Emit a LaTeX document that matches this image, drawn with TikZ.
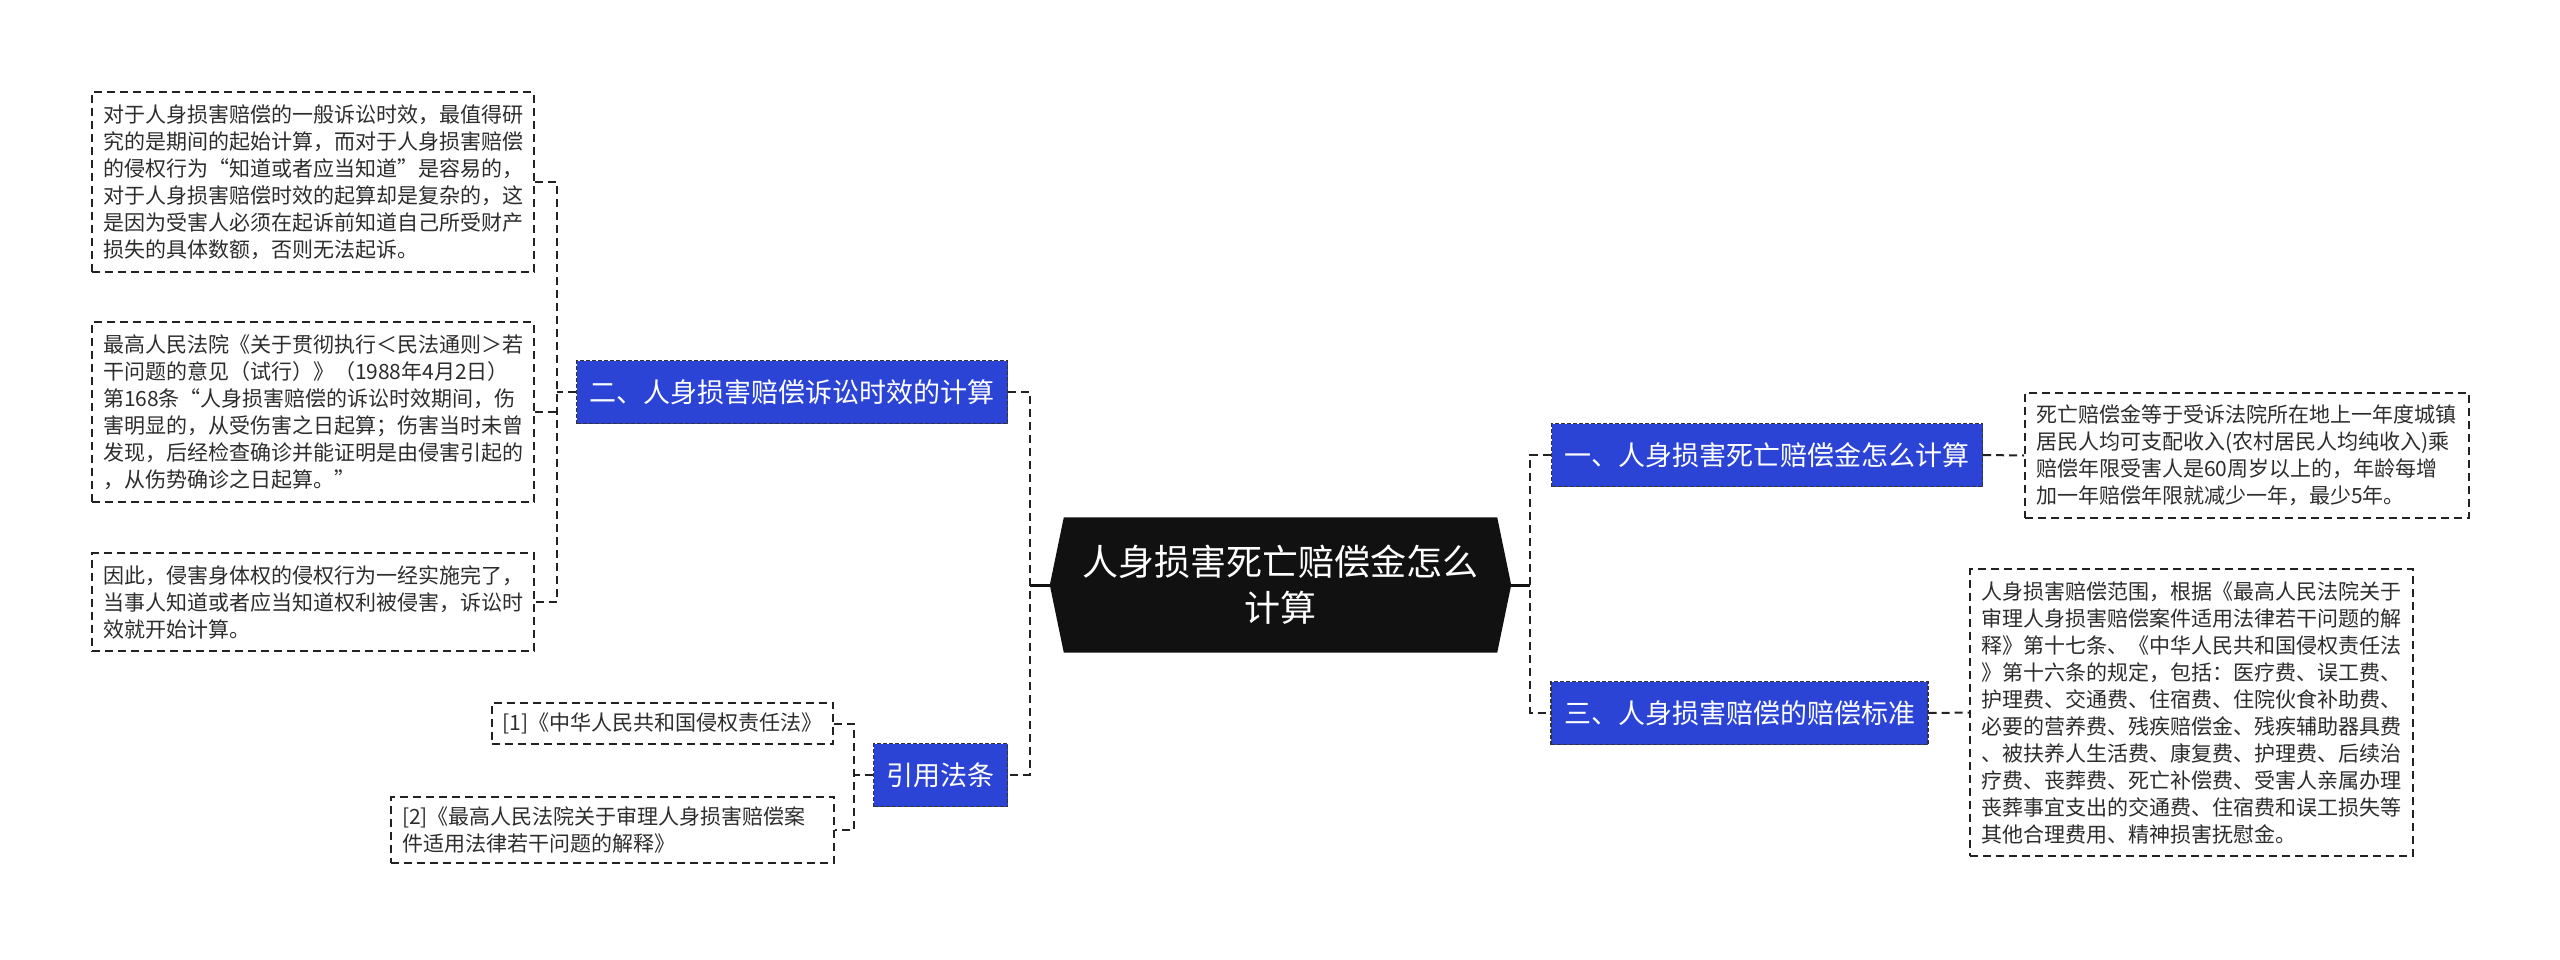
\documentclass[tikz,border=0pt]{standalone}
\usepackage{fontspec}
\setmainfont{Noto Sans CJK SC}
\usetikzlibrary{backgrounds}
\definecolor{nodeblue}{RGB}{44,68,214}
\definecolor{txtgray}{RGB}{45,45,45}
\definecolor{linegray}{RGB}{34,34,34}
\definecolor{rootblack}{RGB}{17,17,17}
\begin{document}
\begin{tikzpicture}[x=1pt,y=-1pt,
  txtbox/.style={draw=linegray, line width=2pt, dash pattern=on 8pt off 5pt, fill=white, text=txtgray, font=\fontsize{21}{27}\selectfont, align=left, inner xsep=11pt, inner ysep=12pt},
  topic/.style={draw=black!80, line width=1.4pt, dash pattern=on 4pt off 2pt, fill=nodeblue, text=white, font=\fontsize{27}{32}\selectfont, inner xsep=13pt, minimum height=63pt},
  rootnode/.style={text=white, font=\fontsize{36}{46}\selectfont, align=center, minimum width=461pt, minimum height=135pt, inner sep=0pt},
  conn/.style={draw=linegray, line width=2pt, dash pattern=on 8pt off 5pt},
  stub/.style={draw=rootblack, line width=3pt}
]
\useasboundingbox (0,0) rectangle (2560,959);

% left text boxes
\node[txtbox, text width=420pt] (a) at (313,182) {对于人身损害赔偿的一般诉讼时效，最值得研\\究的是期间的起始计算，而对于人身损害赔偿\\的侵权行为“知道或者应当知道”是容易的，\\对于人身损害赔偿时效的起算却是复杂的，这\\是因为受害人必须在起诉前知道自己所受财产\\损失的具体数额，否则无法起诉。};
\node[txtbox, text width=420pt] (b) at (313,412) {最高人民法院《关于贯彻执行＜民法通则＞若\\干问题的意见（试行）》（1988年4月2日）\\第168条“人身损害赔偿的诉讼时效期间，伤\\害明显的，从受伤害之日起算；伤害当时未曾\\发现，后经检查确诊并能证明是由侵害引起的\\，从伤势确诊之日起算。”};
\node[txtbox, text width=420pt] (c) at (313,602) {因此，侵害身体权的侵权行为一经实施完了，\\当事人知道或者应当知道权利被侵害，诉讼时\\效就开始计算。};

% topics
\node[topic] (n2) at (792,392) {二、人身损害赔偿诉讼时效的计算};
\node[topic, minimum width=133pt] (ref) at (940.5,775) {引用法条};
\node[topic] (n1) at (1767,455) {一、人身损害死亡赔偿金怎么计算};
\node[topic] (n3) at (1739.5,713) {三、人身损害赔偿的赔偿标准};

% root
\node[rootnode] (root) at (1280.5,585) {人身损害死亡赔偿金怎么\\计算};

% references
\node[txtbox, inner ysep=10pt] (r1) at (662.5,723.5) {[1]《中华人民共和国侵权责任法》};
\node[txtbox, text width=421pt, inner ysep=10pt] (r2) at (612.5,830) {[2]《最高人民法院关于审理人身损害赔偿案\\件适用法律若干问题的解释》};

% right text boxes
\node[txtbox, text width=422pt] (t1) at (2247,455.5) {死亡赔偿金等于受诉法院所在地上一年度城镇\\居民人均可支配收入(农村居民人均纯收入)乘\\赔偿年限受害人是60周岁以上的，年龄每增\\加一年赔偿年限就减少一年，最少5年。};
\node[txtbox, text width=421pt] (t3) at (2191.5,712.5) {人身损害赔偿范围，根据《最高人民法院关于\\审理人身损害赔偿案件适用法律若干问题的解\\释》第十七条、《中华人民共和国侵权责任法\\》第十六条的规定，包括：医疗费、误工费、\\护理费、交通费、住宿费、住院伙食补助费、\\必要的营养费、残疾赔偿金、残疾辅助器具费\\、被扶养人生活费、康复费、护理费、后续治\\疗费、丧葬费、死亡补偿费、受害人亲属办理\\丧葬事宜支出的交通费、住宿费和误工损失等\\其他合理费用、精神损害抚慰金。};

\begin{scope}[on background layer]
  \fill[white] (0,0) rectangle (2560,959);
  \fill[rootblack] ([xshift=14pt]root.north west) -- ([xshift=-14pt]root.north east) -- (root.east) -- ([xshift=-14pt]root.south east) -- ([xshift=14pt]root.south west) -- (root.west) -- cycle;
\end{scope}

% connectors
\coordinate (lb) at ([xshift=-19pt]n2.west);
\draw[conn] (a.east) -- (a.east -| lb) -- (c.east -| lb) -- (c.east);
\draw[conn] (b.east) -- (b.east -| lb);
\draw[conn] (n2.west) -- (lb);

\coordinate (cl) at ([xshift=-20pt]root.west);
\draw[stub] (root.west) -- (cl);
\draw[conn] (n2.east) -- (n2.east -| cl) -- (ref.east -| cl) -- (ref.east);

\coordinate (rb) at ([xshift=-19pt]ref.west);
\draw[conn] (r1.east) -- (r1.east -| rb) -- (r2.east -| rb) -- (r2.east);
\draw[conn] (ref.west) -- (rb);

\coordinate (cr) at ([xshift=19pt]root.east);
\draw[stub] (root.east) -- (cr);
\draw[conn] (n1.west) -- (n1.west -| cr) -- (n3.west -| cr) -- (n3.west);

\draw[conn] (n1.east) -- (t1.west);
\draw[conn] (n3.east) -- (t3.west);
\end{tikzpicture}
\end{document}
